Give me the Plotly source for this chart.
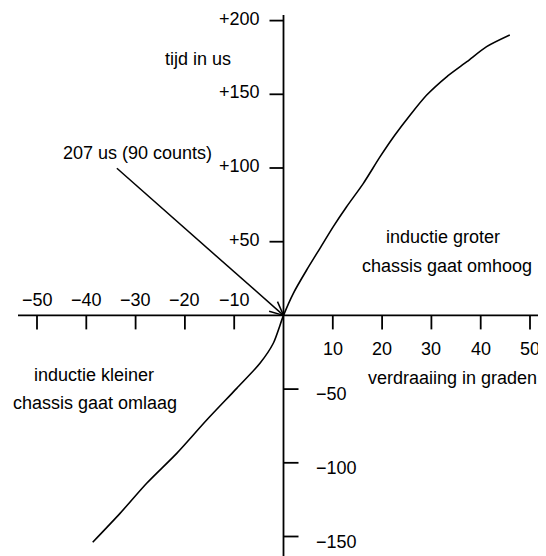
import math
import plotly.graph_objects as go

# ---- data ----
curve_pos_x = [0, 2.0, 4.7, 7.4, 10.1, 12.8, 16.2, 19.6, 22.6, 25.7, 29.05, 33.1, 37.2, 41.2, 45.9]
curve_pos_y = [0, 15.0, 30.8, 45.5, 60.2, 73.7, 89.6, 107.7, 122.4, 136.0, 149.5, 161.9, 172.1, 182.3, 190.2]
curve_neg_x = [0, -2.07, -4.77, -9.49, -15.58, -21.66, -27.75, -33.16, -38.70]
curve_neg_y = [0, -18.9, -32.5, -49.5, -71.0, -93.6, -113.9, -134.3, -153.9]

x_ticks_neg = [-50, -40, -30, -20, -10]
x_ticks_pos = [10, 20, 30, 40, 50]
y_ticks_pos = [50, 100, 150, 200]
y_ticks_neg = [-50, -100, -150]
x_tick_labels_neg = ["\u221250", "\u221240", "\u221230", "\u221220", "\u221210"]
x_tick_labels_pos = ["10", "20", "30", "40", "50"]
y_tick_labels_pos = ["+50", "+100", "+150", "+200"]
y_tick_labels_neg = ["\u221250", "\u2212100", "\u2212150"]

arrow_text = "207 us (90 counts)"
arrow_tail = (-33.8, 99.8)
arrow_tip = (0.0, 0.0)

# ---- layout constants (page pixels; page body has an 8px margin) ----
PAGE_W, PAGE_H = 546, 556
OFF = 8
OX, OY = 283.5, 315.4      # origin in page pixels
sx, sy = 4.93, 1.474       # pixels per data unit
W, H = PAGE_W - OFF, PAGE_H - OFF
XR = [(OFF - OX) / sx, (PAGE_W - OX) / sx]
YR = [(OY - PAGE_H) / sy, (OY - OFF) / sy]
FONT = dict(family="Liberation Sans, Arial, sans-serif", size=18, color="black")
AX = dict(color="black", width=1.8)


def dx(px):
    return (px - OX) / sx


def dy(py):
    return (OY - py) / sy


fig = go.Figure()
cx = curve_neg_x[::-1] + curve_pos_x[1:]
cy = curve_neg_y[::-1] + curve_pos_y[1:]
fig.add_trace(go.Scatter(x=cx, y=cy, mode="lines",
                         line=dict(color="black", width=1.6, shape="spline", smoothing=0.7),
                         hoverinfo="skip", showlegend=False))

shapes = []
shapes.append(dict(type="line", xref="x", yref="y", x0=dx(18), x1=XR[1], y0=0, y1=0, line=AX))
shapes.append(dict(type="line", xref="x", yref="y", x0=0, x1=0, y0=dy(15), y1=YR[0], line=AX))
TL = 14
for v in x_ticks_neg + x_ticks_pos:
    shapes.append(dict(type="line", xref="x", yref="y", x0=v, x1=v, ysizemode="pixel", yanchor=0,
                       y0=0, y1=-TL, line=AX))
for v in y_ticks_pos:
    shapes.append(dict(type="line", xref="x", yref="y", y0=v, y1=v, xsizemode="pixel", xanchor=0,
                       x0=0, x1=-TL, line=AX))
for v in y_ticks_neg:
    shapes.append(dict(type="line", xref="x", yref="y", y0=v, y1=v, xsizemode="pixel", xanchor=0,
                       x0=0, x1=TL + 1, line=AX))

shapes.append(dict(type="line", xref="x", yref="y", x0=arrow_tail[0], y0=arrow_tail[1],
                   x1=arrow_tip[0], y1=arrow_tip[1], line=dict(color="black", width=1.5)))
dxp = (arrow_tail[0] - arrow_tip[0]) * sx
dyp = (arrow_tail[1] - arrow_tip[1]) * sy
L = math.hypot(dxp, dyp)
ux, uy = dxp / L, dyp / L
for ang in (25, -25):
    a = math.radians(ang)
    rx = ux * math.cos(a) - uy * math.sin(a)
    ry = ux * math.sin(a) + uy * math.cos(a)
    shapes.append(dict(type="line", xref="x", yref="y", x0=arrow_tip[0], y0=arrow_tip[1],
                       x1=arrow_tip[0] + 15 * rx / sx, y1=arrow_tip[1] + 15 * ry / sy,
                       line=dict(color="black", width=1.5)))

ann = []
for v, t in zip(x_ticks_neg, x_tick_labels_neg):
    ann.append(dict(x=v, y=0, text=t, showarrow=False, yshift=15, xanchor="center", yanchor="middle"))
for v, t in zip(x_ticks_pos, x_tick_labels_pos):
    ann.append(dict(x=v, y=0, text=t, showarrow=False, yshift=-34, xanchor="center", yanchor="middle"))
for v, t in zip(y_ticks_pos, y_tick_labels_pos):
    ann.append(dict(x=0, y=v, text=t, showarrow=False, xshift=-22, yshift=2, xanchor="right", yanchor="middle"))
for v, t in zip(y_ticks_neg, y_tick_labels_neg):
    ann.append(dict(x=0, y=v, text=t, showarrow=False, xshift=30, yshift=-5, xanchor="left", yanchor="middle"))


def ptext(px, py, t):
    return dict(x=dx(px), y=dy(py), text=t, showarrow=False, xanchor="center", yanchor="middle")


ann.append(ptext(137, 153, arrow_text))
ann.append(ptext(198, 59, "tijd in us"))
ann.append(ptext(443, 237, "inductie groter"))
ann.append(ptext(447, 266, "chassis gaat omhoog"))
ann.append(ptext(94, 375, "inductie kleiner"))
ann.append(ptext(95, 403, "chassis gaat omlaag"))
ann.append(ptext(452, 378, "verdraaiing in graden"))
for a in ann:
    a["xref"] = "x"
    a["yref"] = "y"
    a["font"] = FONT

fig.update_layout(
    width=W, height=H, margin=dict(l=0, r=0, t=0, b=0),
    paper_bgcolor="white", plot_bgcolor="white",
    xaxis=dict(range=XR, visible=False, fixedrange=True),
    yaxis=dict(range=YR, visible=False, fixedrange=True),
    shapes=shapes, annotations=ann, showlegend=False,
)
fig.write_html("out.html")
